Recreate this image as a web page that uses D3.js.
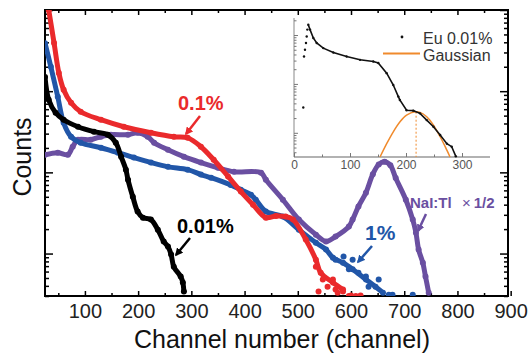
<!DOCTYPE html>
<meta charset="utf-8">
<script src="https://cdn.jsdelivr.net/npm/d3@7"></script>
<style>
body { margin: 0; background: #fff; }
text { font-family: "Liberation Sans", Arial, sans-serif; }
</style>
<body>
<script>

// main spectra, [channel, counts]
var eu01 = [[32,10000],[42,3935],[51,1680],[60,1040],[74,719],[92,558],[130,445],[173,365],[224,308],[267,275],[293,267],[318,207],[342,143],[369,89],[393,58],[416,40],[440,27.7],[459,29],[477,28.5],[491,26.2],[515,14.9],[534,8.4],[543,5.8],[566,4.4],[585,3.6]];
var eu01Tail = [[534,6.9],[547,4.8],[556,3.9],[566,4.8],[571,3.6],[539,3.4],[585,3.4],[596,3.0],[609,3.0],[575,3.3],[600,3.05],[618,3.05]];

var eu1 = [[25,3900],[36,1995],[49,853],[60,408],[74,275],[92,232],[130,201],[162,175],[192,152],[224,132],[256,117],[293,108],[318,94],[337,86],[374,70],[393,61],[412,53],[421,46],[440,33],[472,28.5],[502,19.7],[534,13.6],[553,11.2],[566,8.9],[585,7.7],[603,6.4],[628,4.8],[646,3.9],[660,3.3]];
var eu1Tail = [[571,8.4],[586,9.2],[603,8.4],[596,6.4],[614,5.8],[628,5.2],[633,3.9],[652,4.8],[671,3.1],[678,3.1],[716,3.1]];

var eu001 = [[25,1500],[32,784],[45,542],[60,445],[87,365],[117,317],[143,291],[158,232],[168,156],[177,108],[181,81],[190,50],[199,33],[209,27.7],[224,26.2],[237,19.7],[248,14.1],[256,12.2],[262,9.7],[267,6.9],[280,5.2],[284,4.4],[286,3.4]];

var nai = [[25,165],[49,175],[68,165],[77,207],[87,253],[111,253],[130,275],[149,291],[181,291],[199,308],[218,275],[230,232],[256,190],[286,156],[318,132],[350,114],[380,102],[431,99],[440,81],[472,46],[502,26.2],[534,17.1],[553,14.1],[571,16.2],[596,21.5],[603,26.2],[614,38],[628,56],[641,95],[652,125],[663,135],[674,122],[684,85],[703,46],[716,26.2],[722,18.1],[727,11.2],[735,7.7],[740,5.2],[746,3.3]];

// inset: Eu 0.01% and gaussian fit
var insetEu = [[16.6,33],[17.9,363],[19.6,500],[21.4,688],[22.7,935],[23.8,1290],[25.5,1630],[28.6,1290],[34.5,870],[40.5,688],[52.3,540],[70.2,438],[94,363],[118,311],[141.6,287],[150.5,267],[165.5,166],[177.3,95],[186.3,55],[189,47],[201,29],[213,28.4],[225,25],[237,18.2],[249,13.3],[261,9],[273,6],[281.6,5.2],[289,3.3]];
var insetGauss = [[153.6,3.2],[165.5,6.0],[177.3,10.5],[189.3,16.8],[201,23],[216,27],[225,26.2],[237,21.3],[249,14.4],[261,8.3],[270,5.2],[278.6,3.2]];
var gaussPeak = [218, 27];

var xTicks = [100,200,300,400,500,600,700,800,900];
var xMinor = [50,150,250,350,450,550,650,750,850];
var yDecades = [10,100,1000,10000];
var insetTicks = [0,100,200,300];
var insetMinor = [50,150,250];

var width = 530,
    height = 355;

var svg = d3.select("body").append("svg")
    .attr("width", width)
    .attr("height", height);

var x = d3.scaleLinear().domain([25, 895]).range([45, 508]);
var y = d3.scaleLog().domain([3, 10000]).range([296, 10]);

svg.append("clipPath").attr("id", "plot")
  .append("rect").attr("x", 45).attr("y", 10).attr("width", 463).attr("height", 286);

// ticks on all four sides, pointing inward
function clean(g) { g.select(".domain").remove(); g.selectAll("line").attr("stroke", "#000").attr("stroke-width", 1.5); }

svg.append("g").attr("transform", "translate(0,296)")
    .call(d3.axisBottom(x).tickValues(xTicks).tickSize(-5).tickPadding(8).tickFormat(d3.format("d")))
    .call(clean)
    .selectAll("text").attr("font-size", 20).attr("fill", "#222")
    .attr("font-family", "Liberation Sans, Arial, sans-serif");
svg.append("g").attr("transform", "translate(0,296)")
    .call(d3.axisBottom(x).tickValues(xMinor).tickSize(-3).tickFormat("")).call(clean);
svg.append("g").attr("transform", "translate(0,10)")
    .call(d3.axisTop(x).tickValues(xTicks.slice(0, 8)).tickSize(-5).tickFormat("")).call(clean);
svg.append("g").attr("transform", "translate(0,10)")
    .call(d3.axisTop(x).tickValues(xMinor).tickSize(-3).tickFormat("")).call(clean);

var yMinor = y.ticks().filter(function(d) { return yDecades.indexOf(d) < 0; });
svg.append("g").attr("transform", "translate(45,0)")
    .call(d3.axisLeft(y).tickValues(yDecades).tickSize(-8).tickFormat("")).call(clean);
svg.append("g").attr("transform", "translate(45,0)")
    .call(d3.axisLeft(y).tickValues(yMinor).tickSize(-4).tickFormat("")).call(clean);
svg.append("g").attr("transform", "translate(508,0)")
    .call(d3.axisRight(y).tickValues(yDecades).tickSize(-8).tickFormat("")).call(clean);
svg.append("g").attr("transform", "translate(508,0)")
    .call(d3.axisRight(y).tickValues(yMinor).tickSize(-4).tickFormat("")).call(clean);

svg.append("rect").attr("x", 45).attr("y", 10).attr("width", 463).attr("height", 286)
    .attr("fill", "none").attr("stroke", "#000").attr("stroke-width", 2);

// spectra
var line = d3.line()
    .x(function(d) { return x(d[0]); })
    .y(function(d) { return y(d[1]); })
    .curve(d3.curveCatmullRom.alpha(0.5));

var plot = svg.append("g").attr("clip-path", "url(#plot)");

function spectrum(data, tail, color) {
  plot.append("path").datum(data)
      .attr("d", line)
      .attr("fill", "none")
      .attr("stroke", color)
      .attr("stroke-width", 5)
      .attr("stroke-linejoin", "round")
      .attr("stroke-linecap", "round");
  plot.append("g").selectAll("circle")
      .data(data.concat(tail))
      .enter().append("circle")
      .attr("cx", function(d) { return x(d[0]); })
      .attr("cy", function(d) { return y(d[1]); })
      .attr("r", 3)
      .attr("fill", color);
}

spectrum(nai, [], "#6a4fa1");
spectrum(eu1, eu1Tail, "#2156a8");
spectrum(eu01, eu01Tail, "#ea2a2c");
spectrum(eu001, [], "#000");

// axis titles
svg.append("text").attr("x", 282).attr("y", 348)
    .attr("text-anchor", "middle").attr("font-size", 25).attr("fill", "#111")
    .text("Channel number (channel)");
svg.append("text").attr("transform", "translate(31,157) rotate(-90)")
    .attr("text-anchor", "middle").attr("font-size", 25).attr("fill", "#111")
    .text("Counts");

// labels with arrows
var defs = svg.append("defs");
function arrowHead(id, color) {
  defs.append("marker").attr("id", id)
      .attr("viewBox", "0 0 10 10").attr("refX", 8).attr("refY", 5)
      .attr("markerWidth", 3.2).attr("markerHeight", 3.2).attr("orient", "auto")
    .append("path").attr("d", "M0,0L10,5L0,10Z").attr("fill", color);
}
function label(txt, tx, ty, size, color, x1, y1, x2, y2, id) {
  arrowHead(id, color);
  svg.append("text").attr("x", tx).attr("y", ty)
      .attr("font-size", size).attr("font-weight", "bold").attr("fill", color)
      .text(txt);
  svg.append("line").attr("x1", x1).attr("y1", y1).attr("x2", x2).attr("y2", y2)
      .attr("stroke", color).attr("stroke-width", 2.5)
      .attr("marker-end", "url(#" + id + ")");
}
label("0.1%", 178, 110, 20, "#ea2a2c", 200, 116, 186, 134, "a1");
label("0.01%", 177, 233, 20, "#000", 190, 238, 176, 255, "a2");
label("1%", 365, 240, 21, "#2156a8", 372, 246, 358, 262, "a3");
label("NaI:Tl", 410, 208, 15, "#6a4fa1", 426, 214, 418, 231, "a4");
svg.append("text").attr("x", 462).attr("y", 208).attr("font-size", 15)
    .attr("fill", "#6a4fa1")
    .html("×<tspan font-weight='bold' dx='3'>1/2</tspan>");

// inset
var ix = d3.scaleLinear().domain([0, 350]).range([294, 490]);
var iy = d3.scaleLog().domain([3.2, 2230]).range([157, 18]);

var inset = svg.append("g");
inset.append("line").attr("x1", 294).attr("x2", 294).attr("y1", 18).attr("y2", 157)
    .attr("stroke", "#888").attr("stroke-width", 1);
inset.append("line").attr("x1", 294).attr("x2", 490).attr("y1", 157).attr("y2", 157)
    .attr("stroke", "#666").attr("stroke-width", 1.2);

function grey(g) { g.select(".domain").remove(); g.selectAll("line").attr("stroke", "#777"); }
var iyDec = [10, 100, 1000];
var iyMinor = iy.ticks().filter(function(d) { return iyDec.indexOf(d) < 0; });
inset.append("g").attr("transform", "translate(294,0)")
    .call(d3.axisLeft(iy).tickValues(iyDec).tickSize(-4).tickFormat("")).call(grey);
inset.append("g").attr("transform", "translate(294,0)")
    .call(d3.axisLeft(iy).tickValues(iyMinor).tickSize(-2.5).tickFormat("")).call(grey);
inset.append("g").attr("transform", "translate(0,157)")
    .call(d3.axisBottom(ix).tickValues(insetTicks).tickSize(-4).tickPadding(3))
    .call(grey)
    .selectAll("text").attr("font-size", 12).attr("fill", "#555")
    .attr("font-family", "Liberation Sans, Arial, sans-serif");
inset.append("g").attr("transform", "translate(0,157)")
    .call(d3.axisBottom(ix).tickValues(insetMinor).tickSize(-2.5).tickFormat("")).call(grey);

var iline = d3.line()
    .x(function(d) { return ix(d[0]); })
    .y(function(d) { return iy(d[1]); });

inset.append("path").datum(insetGauss)
    .attr("d", iline.curve(d3.curveCatmullRom.alpha(0.5)))
    .attr("fill", "none").attr("stroke", "#f08a2c").attr("stroke-width", 1.5);
inset.append("line")
    .attr("x1", ix(gaussPeak[0])).attr("x2", ix(gaussPeak[0]))
    .attr("y1", iy(gaussPeak[1])).attr("y2", 157)
    .attr("stroke", "#f08a2c").attr("stroke-width", 1).attr("stroke-dasharray", "2,2");

inset.append("path").datum(insetEu.slice(6))
    .attr("d", iline.curve(d3.curveLinear))
    .attr("fill", "none").attr("stroke", "#111").attr("stroke-width", 1.6);
inset.selectAll("circle.eu")
    .data(insetEu)
    .enter().append("circle")
    .attr("class", "eu")
    .attr("cx", function(d) { return ix(d[0]); })
    .attr("cy", function(d) { return iy(d[1]); })
    .attr("r", 1.2)
    .attr("fill", "#111");

// inset legend
inset.append("circle").attr("cx", 402).attr("cy", 37).attr("r", 1.4).attr("fill", "#111");
inset.append("text").attr("x", 423).attr("y", 43.5).attr("font-size", 16).attr("fill", "#333")
    .text("Eu 0.01%");
inset.append("line").attr("x1", 383).attr("x2", 420).attr("y1", 53.5).attr("y2", 53.5)
    .attr("stroke", "#f08a2c").attr("stroke-width", 1.8);
inset.append("text").attr("x", 423).attr("y", 60.5).attr("font-size", 16).attr("fill", "#333")
    .text("Gaussian");

</script>
</body>
